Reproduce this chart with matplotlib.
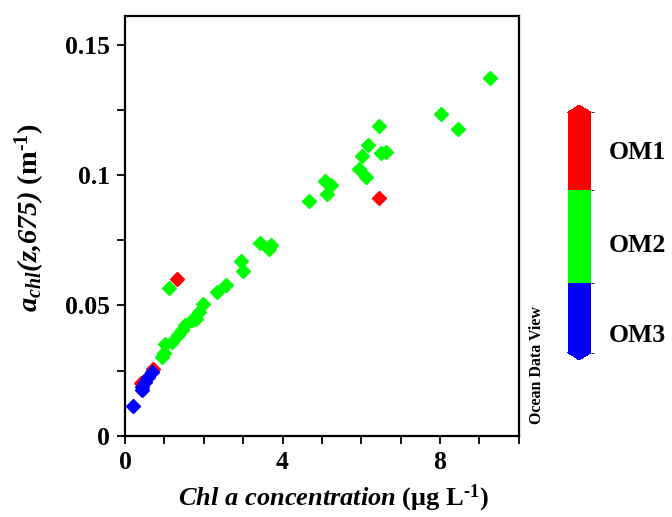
import matplotlib
matplotlib.use("Agg")
import matplotlib.pyplot as plt
from matplotlib.colors import ListedColormap, BoundaryNorm
from matplotlib.cm import ScalarMappable
from matplotlib.ticker import MultipleLocator

plt.rcParams['font.family'] = ['Liberation Serif', 'DejaVu Serif']
plt.rcParams['font.weight'] = 'bold'
plt.rcParams['axes.labelweight'] = 'bold'
plt.rcParams['mathtext.fontset'] = 'custom'
plt.rcParams['mathtext.rm'] = 'Liberation Serif:bold'
plt.rcParams['mathtext.it'] = 'Liberation Serif:bold:italic'
plt.rcParams['mathtext.bf'] = 'Liberation Serif:bold'
plt.rcParams['mathtext.sf'] = 'Liberation Serif:bold:italic'

# Data
om2_chl = [9.26, 8.02, 8.45, 6.46, 6.17, 6.02, 6.50, 6.64, 5.95, 6.11, 5.07, 5.23,
           5.12, 4.68, 3.43, 3.70, 3.65, 2.94, 2.99, 1.13, 2.56, 2.34, 1.99, 1.87,
           1.80, 1.69, 1.52, 1.44, 1.35, 1.20, 1.02, 0.93, 0.99]
om2_ach = [0.1373, 0.1236, 0.1175, 0.1189, 0.1115, 0.1073, 0.1083, 0.1089, 0.1022,
           0.0991, 0.0977, 0.0962, 0.0927, 0.0900, 0.0738, 0.0732, 0.0718, 0.0672,
           0.0631, 0.0568, 0.0579, 0.0553, 0.0506, 0.0476, 0.0447, 0.0444, 0.0425,
           0.0406, 0.0387, 0.0361, 0.0352, 0.0304, 0.0317]
om1_chl = [6.46, 1.31, 0.70, 0.40]
om1_ach = [0.0911, 0.0600, 0.0255, 0.0202]
om3_chl = [0.68, 0.59, 0.51, 0.42, 0.42, 0.21]
om3_ach = [0.0246, 0.0227, 0.0208, 0.0189, 0.0174, 0.0116]

class_labels = ['OM3', 'OM2', 'OM1']
class_colors = ['#0000ff', '#00ff00', '#ff0000']

fig = plt.figure(figsize=(6.72, 5.17), dpi=100)
ax = fig.add_axes([0.186, 0.157, 0.586, 0.812])

mk = dict(marker='D', linestyle='none', markersize=7.6, markeredgewidth=1.0)
ax.plot(om2_chl, om2_ach, color=class_colors[1], **mk)
ax.plot(om1_chl, om1_ach, color=class_colors[2], **mk)
ax.plot(om3_chl, om3_ach, color=class_colors[0], **mk)

ax.set_xlim(0, 10)
ax.set_ylim(0, 0.161)
ax.xaxis.set_minor_locator(MultipleLocator(1))
ax.yaxis.set_minor_locator(MultipleLocator(0.025))
ax.set_xticks([0, 4, 8])
ax.set_xticklabels(['0', '4', '8'])
ax.set_yticks([0, 0.05, 0.1, 0.15])
ax.set_yticklabels(['0', '0.05', '0.1', '0.15'])
ax.tick_params(which='both', direction='out', width=1.3, labelsize=18.5, pad=5, length=6)
for s in ax.spines.values():
    s.set_linewidth(1.6)

ax.set_xlabel(r"$\mathsf{Chl\ a\ concentration}$ (μg L$^{\mathrm{‐1}}$)",
              fontsize=19, fontweight='bold')
ax.set_ylabel(r"$\mathsf{a}_{\mathsf{chl}}\mathsf{(z{,}675)}$ (m$^{\mathrm{‐1}}$)",
              fontsize=20.5, fontweight='bold')
ax.xaxis.set_label_coords(0.53, -0.112)
ax.yaxis.set_label_coords(-0.197, 0.52)

fig.text(0.799, 0.18, 'Ocean Data View', rotation=90, fontsize=11.5,
         fontweight='bold', ha='center', va='bottom')

# Colorbar
cb_bounds = [0, 70, 163, 241]
cax = fig.add_axes([0.845, 0.3037, 0.034, 0.493])
cmap = ListedColormap(class_colors)
cmap.set_under(class_colors[0])
cmap.set_over(class_colors[2])
norm = BoundaryNorm(cb_bounds, cmap.N)
sm = ScalarMappable(norm=norm, cmap=cmap)
cb = fig.colorbar(sm, cax=cax, extend='both', extendfrac=0.03,
                  spacing='proportional', ticks=[20, 110, 203])
cb.set_ticklabels(class_labels)
cb.outline.set_visible(False)
cax.tick_params(length=0, labelsize=18.5, pad=13)

fig.savefig('out.png', dpi=100)
